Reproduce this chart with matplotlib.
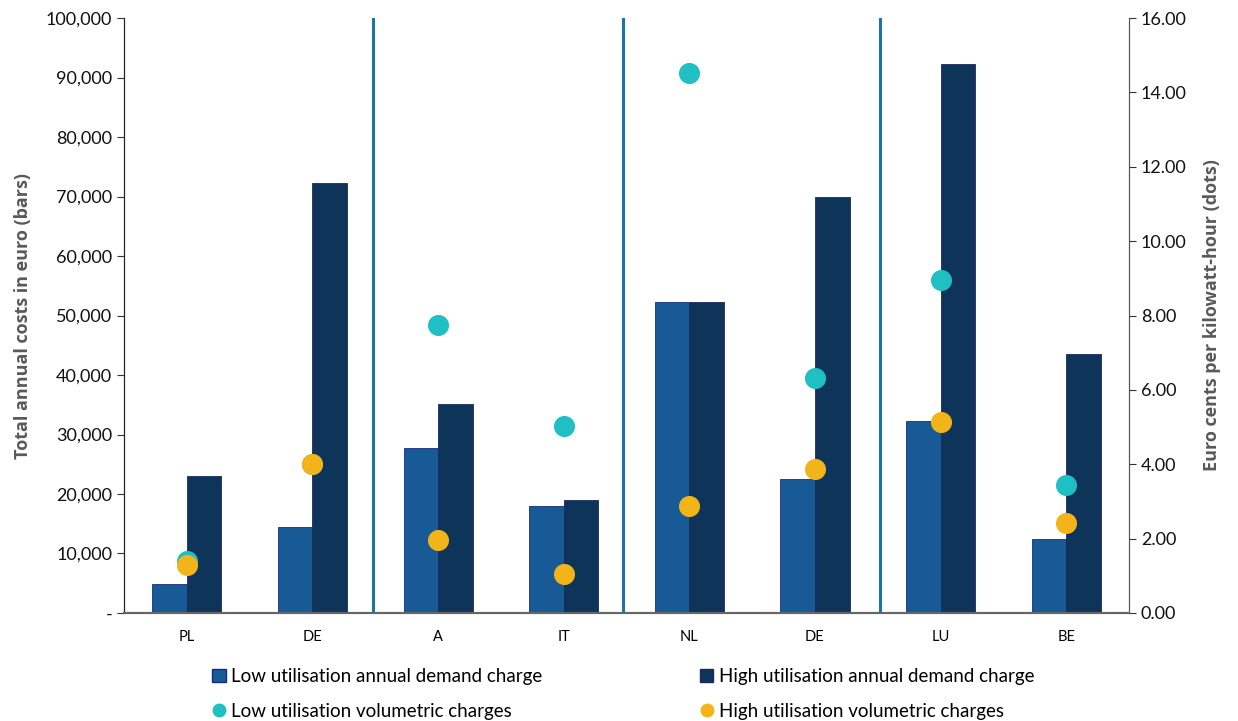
import numpy as np
import matplotlib
matplotlib.use('Agg')
import matplotlib.pyplot as plt
from matplotlib.ticker import FuncFormatter
from matplotlib.lines import Line2D
from matplotlib.patches import Patch

plt.rcParams['font.family'] = ['Lato', 'DejaVu Sans']

countries = ["PL", "DE", "A", "IT", "NL", "DE", "LU", "BE"]
low_demand = [4900, 14500, 27700, 18000, 52200, 22600, 32200, 12400]
high_demand = [23000, 72300, 35200, 19000, 52200, 70000, 92300, 43600]
low_vol = [1.40, 4.00, 7.74, 5.03, 14.52, 6.32, 8.95, 3.43]
high_vol = [1.29, 4.01, 1.96, 1.06, 2.88, 3.87, 5.13, 2.43]
separators = [1.48, 3.47, 5.52]

c_low = "#175a96"
c_high = "#0e3559"
c_teal = "#1fbfc4"
c_orange = "#f2b418"
c_sep = "#1b75a6"

fig = plt.figure(figsize=(12.38, 7.21), dpi=100)
ax = fig.add_axes([0.1002, 0.1498, 0.8118, 0.8252])
ax2 = ax.twinx()

x = np.arange(len(countries))
w = 0.275
ax.bar(x - w / 2, low_demand, w, color=c_low, edgecolor="#1a2a80", linewidth=0.6, zorder=2)
ax.bar(x + w / 2, high_demand, w, color=c_high, edgecolor="#1a2a60", linewidth=0.6, zorder=2)
for s in separators:
    ax.axvline(s, color=c_sep, lw=2.2, zorder=1)

ax.set_xlim(-0.5, len(countries) - 0.5)
ax.set_ylim(0, 100000)
ax.set_yticks(np.arange(0, 100001, 10000))
ax.yaxis.set_major_formatter(FuncFormatter(lambda v, p: "-" if v == 0 else f"{int(v):,}"))
ax.set_xticks(x)
ax.set_xticklabels(countries, fontsize=10.5)
ax.tick_params(axis='x', length=0, pad=12)
ax.tick_params(axis='y', labelsize=13, length=5, direction='out', color="#333333", labelcolor="#111111")
ax.set_ylabel("Total annual costs in euro (bars)", fontsize=13, fontweight='bold', color="#595959",
              labelpad=10, family=['Open Sans', 'DejaVu Sans'])

ax2.scatter(x, low_vol, s=200, color=c_teal, zorder=3)
ax2.scatter(x, high_vol, s=200, color=c_orange, zorder=4)
ax2.set_ylim(0, 16)
ax2.set_yticks(np.arange(0, 16.01, 2))
ax2.yaxis.set_major_formatter(FuncFormatter(lambda v, p: f"{v:.2f}"))
ax2.tick_params(axis='y', labelsize=13, length=5, direction='out', color="#333333", labelcolor="#111111")
ax2.set_ylabel("Euro cents per kilowatt-hour (dots)", fontsize=13, fontweight='bold', color="#595959",
               labelpad=12, family=['Open Sans', 'DejaVu Sans'])

for a in (ax, ax2):
    a.spines['top'].set_visible(False)
    a.spines['left'].set_color("#222222")
    a.spines['right'].set_color("#555555")
    a.spines['bottom'].set_color("#666666")
    a.spines['bottom'].set_linewidth(1.5)

handles = [
    Patch(facecolor=c_low, edgecolor="#1a2a80"),
    Line2D([], [], marker='o', ls='', color=c_teal, markersize=9),
    Patch(facecolor=c_high, edgecolor="#1a2a60"),
    Line2D([], [], marker='o', ls='', color=c_orange, markersize=9),
]
labels = ["Low utilisation annual demand charge", "Low utilisation volumetric charges",
          "High utilisation annual demand charge", "High utilisation volumetric charges"]
fig.legend(handles, labels, ncol=2, loc='lower left', bbox_to_anchor=(0.158, -0.022),
           frameon=False, fontsize=13.5, columnspacing=8.4, handlelength=0.7, handletextpad=0.3,
           labelspacing=0.95)

plt.savefig("out.png", dpi=100)
